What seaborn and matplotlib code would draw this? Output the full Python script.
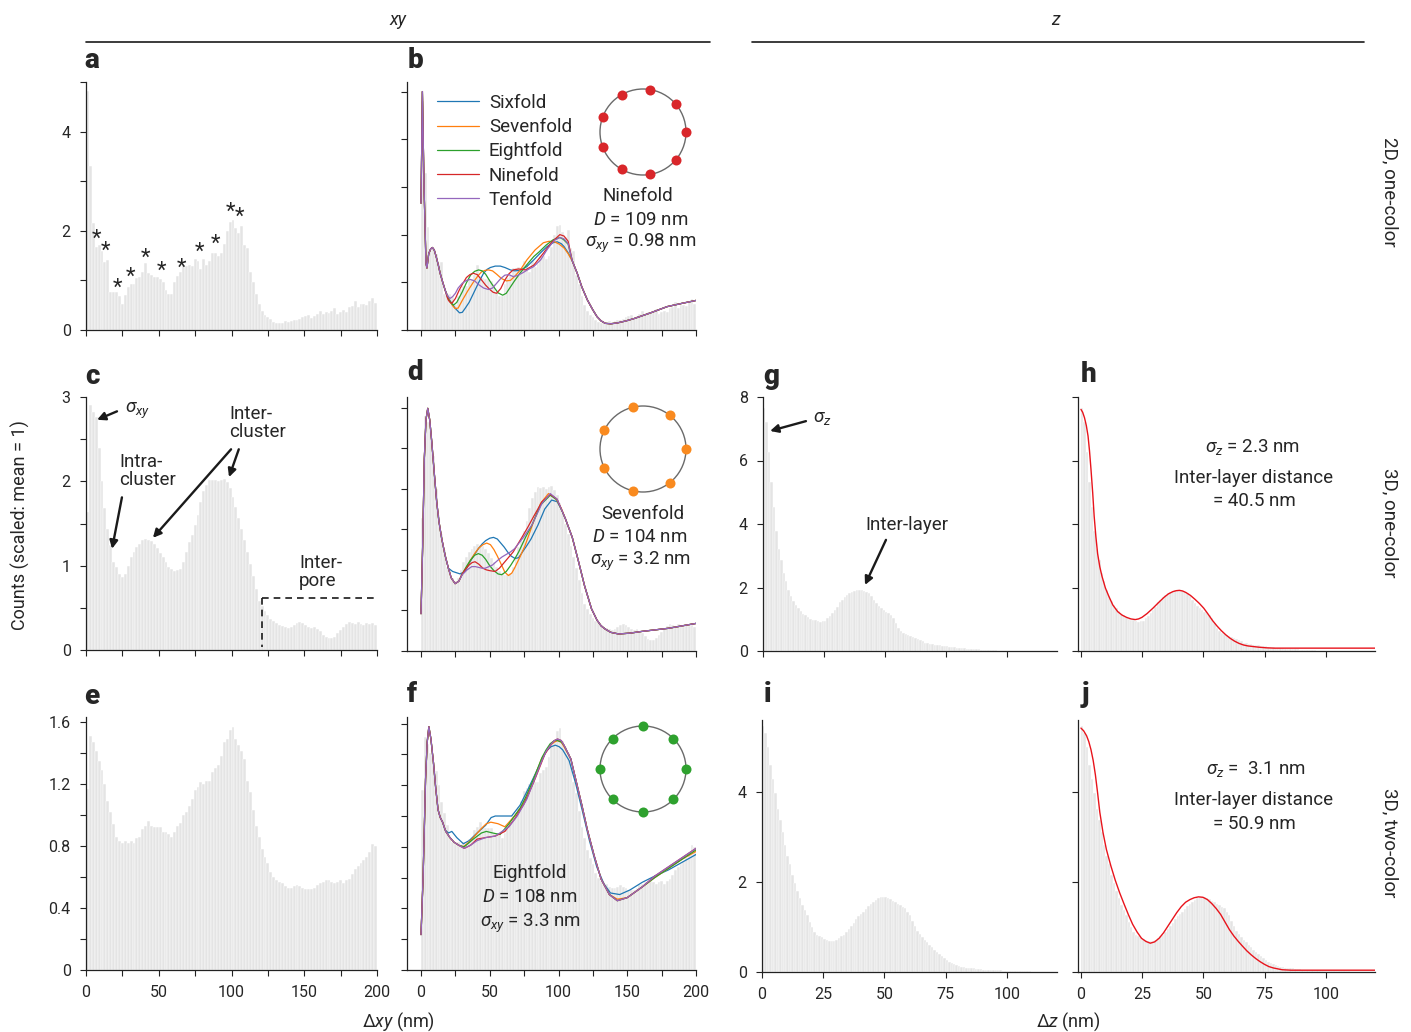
import numpy as np
import pandas as pd
import matplotlib
matplotlib.use('Agg')
import matplotlib.pyplot as plt
import seaborn as sns
from matplotlib.patches import Circle
from matplotlib.lines import Line2D

sns.set_theme(style='ticks')
plt.rcParams['font.family'] = ['Roboto', 'DejaVu Sans']
plt.rcParams['mathtext.fontset'] = 'custom'
plt.rcParams['mathtext.rm'] = 'Roboto'
plt.rcParams['mathtext.it'] = 'Roboto:italic'
plt.rcParams['mathtext.bf'] = 'Roboto:bold'

# ---- histogram data (scaled counts) ----
# xy histograms: 2 nm bins from 0 to 200 nm
hist_a = [4.81, 3.30, 2.16, 1.67, 1.71, 1.59, 1.38, 1.42, 0.76, 0.76,
          0.76, 0.69, 0.53, 0.71, 0.86, 0.92, 0.92, 1.04, 1.06, 1.16,
          1.36, 1.14, 1.10, 1.07, 1.07, 1.02, 0.96, 0.80, 0.72, 0.72,
          0.96, 1.09, 1.16, 1.31, 1.29, 1.32, 1.29, 1.44, 1.39, 1.22,
          1.44, 1.32, 1.39, 1.56, 1.56, 1.49, 1.56, 1.74, 1.99, 2.18,
          2.21, 2.06, 1.96, 2.09, 1.71, 1.66, 1.16, 0.96, 0.72, 0.52,
          0.39, 0.31, 0.27, 0.22, 0.17, 0.15, 0.15, 0.14, 0.19, 0.17,
          0.19, 0.21, 0.21, 0.23, 0.27, 0.29, 0.31, 0.25, 0.29, 0.33,
          0.39, 0.33, 0.37, 0.35, 0.39, 0.45, 0.33, 0.37, 0.40, 0.37,
          0.47, 0.49, 0.59, 0.47, 0.53, 0.52, 0.51, 0.59, 0.64, 0.55]

hist_c = [1.64, 2.90, 2.82, 2.76, 2.40, 2.00, 1.68, 1.44, 1.24, 1.04,
          0.98, 0.90, 0.86, 0.90, 1.00, 1.10, 1.16, 1.22, 1.26, 1.30,
          1.32, 1.31, 1.29, 1.26, 1.21, 1.15, 1.10, 1.04, 0.99, 0.96,
          0.94, 0.95, 0.96, 1.04, 1.16, 1.28, 1.36, 1.48, 1.60, 1.76,
          1.88, 1.96, 2.02, 2.01, 2.02, 2.00, 2.02, 2.03, 1.99, 1.92,
          1.82, 1.70, 1.56, 1.44, 1.30, 1.16, 1.02, 0.88, 0.72, 0.58,
          0.52, 0.46, 0.41, 0.37, 0.34, 0.32, 0.30, 0.28, 0.27, 0.26,
          0.27, 0.30, 0.32, 0.33, 0.32, 0.30, 0.27, 0.26, 0.27, 0.25,
          0.22, 0.18, 0.15, 0.14, 0.14, 0.16, 0.20, 0.24, 0.27, 0.31,
          0.33, 0.32, 0.31, 0.33, 0.31, 0.30, 0.32, 0.31, 0.32, 0.30]

hist_e = [1.17, 1.51, 1.47, 1.41, 1.35, 1.29, 1.20, 1.09, 1.02, 0.94,
          0.86, 0.83, 0.82, 0.83, 0.82, 0.83, 0.82, 0.85, 0.86, 0.91,
          0.93, 0.96, 0.93, 0.92, 0.92, 0.92, 0.89, 0.89, 0.88, 0.86,
          0.89, 0.93, 0.95, 1.00, 1.02, 1.06, 1.10, 1.16, 1.18, 1.21,
          1.20, 1.22, 1.22, 1.28, 1.30, 1.32, 1.38, 1.47, 1.49, 1.55,
          1.57, 1.49, 1.45, 1.41, 1.36, 1.22, 1.15, 1.03, 0.93, 0.86,
          0.78, 0.73, 0.69, 0.63, 0.60, 0.58, 0.57, 0.56, 0.54, 0.53,
          0.53, 0.54, 0.55, 0.54, 0.53, 0.52, 0.52, 0.52, 0.53, 0.55,
          0.56, 0.57, 0.58, 0.58, 0.57, 0.56, 0.57, 0.58, 0.56, 0.58,
          0.59, 0.62, 0.65, 0.67, 0.69, 0.71, 0.73, 0.76, 0.81, 0.80]

# z histograms: 1 nm bins from 0 to 120 nm
hist_g = [7.65, 7.21, 6.26, 5.31, 4.52, 3.78, 3.20, 2.88, 2.46, 2.20,
          1.93, 1.72, 1.56, 1.44, 1.35, 1.25, 1.17, 1.12, 1.07, 1.01,
          0.99, 0.97, 0.94, 0.91, 0.93, 0.96, 1.03, 1.11, 1.19, 1.30,
          1.40, 1.53, 1.61, 1.70, 1.77, 1.83, 1.87, 1.90, 1.92, 1.93,
          1.91, 1.88, 1.85, 1.83, 1.72, 1.61, 1.51, 1.42, 1.35, 1.28,
          1.22, 1.19, 1.14, 1.03, 0.88, 0.72, 0.64, 0.58, 0.54, 0.50,
          0.47, 0.45, 0.42, 0.38, 0.35, 0.30, 0.26, 0.24, 0.22, 0.21,
          0.20, 0.19, 0.18, 0.17, 0.16, 0.15, 0.14, 0.13, 0.12, 0.11,
          0.10, 0.09, 0.08, 0.07, 0.07, 0.06, 0.06, 0.05, 0.05, 0.04,
          0.04, 0.03, 0.03, 0.02, 0.02, 0.02, 0.01, 0.01, 0.01, 0.01,
          0, 0, 0, 0, 0, 0, 0, 0, 0, 0,
          0, 0, 0, 0, 0, 0, 0, 0, 0, 0]

hist_i = [5.46, 5.31, 5.01, 4.60, 4.28, 3.98, 3.62, 3.38, 3.12, 2.82,
          2.57, 2.39, 2.16, 1.97, 1.79, 1.64, 1.49, 1.37, 1.26, 1.11,
          1.00, 0.90, 0.83, 0.80, 0.77, 0.74, 0.71, 0.70, 0.69, 0.68,
          0.72, 0.75, 0.80, 0.83, 0.89, 0.95, 1.02, 1.10, 1.17, 1.25,
          1.30, 1.34, 1.40, 1.47, 1.52, 1.56, 1.60, 1.64, 1.66, 1.67,
          1.67, 1.65, 1.62, 1.58, 1.55, 1.52, 1.49, 1.45, 1.43, 1.34,
          1.26, 1.13, 1.02, 0.92, 0.85, 0.77, 0.72, 0.66, 0.60, 0.55,
          0.50, 0.45, 0.40, 0.36, 0.32, 0.27, 0.23, 0.20, 0.17, 0.15,
          0.14, 0.12, 0.11, 0.10, 0.09, 0.08, 0.08, 0.07, 0.07, 0.06,
          0.05, 0.05, 0.05, 0.04, 0.04, 0.04, 0.04, 0.04, 0.03, 0.03,
          0.03, 0.03, 0.03, 0.03, 0.02, 0.02, 0.02, 0.02, 0.02, 0.02,
          0, 0, 0, 0, 0, 0, 0, 0, 0, 0]

# ---- fitted model curves ----
fold_names = ['Sixfold', 'Sevenfold', 'Eightfold', 'Ninefold', 'Tenfold']
fold_colors = ['#1f77b4', '#ff7f0e', '#2ca02c', '#d62728', '#9467bd']

# panel b (2D, one-color)
b_head_x = [0, 1.0, 2.2, 3.6, 4.3, 5.6, 7.0, 8.3, 9.7, 11.0, 12.5, 13.9, 15.7, 17.5]
b_head_y = [2.66, 5.0, 3.0, 1.4, 1.3, 1.6, 1.70, 1.73, 1.67, 1.54, 1.37, 1.19, 1.01, 0.84]
b_mid_x = [[19.5, 21, 23, 25, 28, 30, 32, 35, 38.2, 42, 45.5, 48, 50.4, 54, 57.7, 61, 65, 68, 72, 77, 82, 87, 91.7, 96, 99, 102, 104, 107],
           [19.5, 21, 23, 24.8, 27, 30, 34, 38, 41, 44, 46.5, 49, 52, 55, 58.5, 62, 65, 68, 72, 77, 83, 89, 93, 97, 100.5, 104, 107],
           [19, 20, 22, 23.6, 26, 30, 33, 36, 39, 41.9, 44.5, 47, 50, 53, 56, 59.4, 62, 65, 68, 72, 77, 82, 86, 91, 96, 101, 103.5, 107],
           [19, 20, 21.2, 22.4, 25, 28, 30.5, 33, 35.5, 38, 41, 44, 47, 50, 52.5, 55, 58, 61, 64, 67, 71, 76, 82, 89, 95, 101, 104, 107],
           [18.5, 19.5, 21, 23, 25, 27, 30, 33, 35.8, 39, 42, 45.5, 49, 52, 55, 58, 61, 64, 67, 70, 74, 78, 82, 87, 92, 97, 101, 104, 107]]
b_mid_y = [[0.71, 0.62, 0.53, 0.45, 0.36, 0.37, 0.45, 0.58, 0.77, 1.00, 1.19, 1.27, 1.31, 1.34, 1.34, 1.31, 1.26, 1.24, 1.25, 1.33, 1.47, 1.62, 1.75, 1.83, 1.85, 1.81, 1.75, 1.62],
           [0.70, 0.60, 0.51, 0.45, 0.46, 0.62, 0.82, 1.00, 1.12, 1.22, 1.25, 1.26, 1.24, 1.17, 1.08, 1.03, 1.04, 1.12, 1.25, 1.47, 1.68, 1.83, 1.86, 1.85, 1.80, 1.72, 1.60],
           [0.71, 0.64, 0.56, 0.52, 0.58, 0.80, 0.99, 1.15, 1.23, 1.26, 1.24, 1.17, 1.03, 0.90, 0.78, 0.73, 0.77, 0.90, 1.03, 1.19, 1.37, 1.54, 1.64, 1.78, 1.89, 1.94, 1.90, 1.80],
           [0.69, 0.62, 0.58, 0.56, 0.66, 0.85, 0.98, 1.10, 1.16, 1.19, 1.16, 1.05, 0.94, 0.85, 0.79, 0.77, 0.87, 1.05, 1.18, 1.26, 1.28, 1.26, 1.36, 1.61, 1.84, 2.00, 1.97, 1.86],
           [0.76, 0.71, 0.66, 0.70, 0.77, 0.88, 0.98, 1.04, 1.06, 1.03, 0.95, 0.88, 0.85, 0.88, 0.98, 1.08, 1.15, 1.16, 1.12, 1.14, 1.20, 1.27, 1.33, 1.47, 1.70, 1.88, 1.94, 1.91, 1.81]]
b_tail_x = [110, 113.6, 117, 121, 125, 128, 131, 134, 138, 143, 149, 155, 167, 179, 190, 200]
b_tail_y = [1.45, 1.19, 0.90, 0.63, 0.42, 0.28, 0.19, 0.14, 0.13, 0.15, 0.19, 0.24, 0.36, 0.49, 0.56, 0.62]

# panel d (3D, one-color)
d_head_x = [0, 1.2, 2.4, 3.6, 4.9, 6.3, 7.8, 9.6, 11.4, 13, 15, 17.5, 19.9]
d_head_y = [0.46, 1.30, 2.37, 2.85, 2.99, 2.85, 2.58, 2.20, 1.84, 1.60, 1.39, 1.18, 1.02]
d_mid_x = [[23, 28.4, 32, 35, 38.5, 41.7, 44.5, 47, 50, 52.7, 55.5, 58, 60.5, 63, 65.5, 68.4, 71, 73, 77, 80, 85, 90, 95, 99, 102, 105],
           [22, 24.8, 27.5, 30, 33, 36, 39, 42, 45, 47.8, 50.5, 53, 55.5, 58, 61, 63.6, 66, 68, 72, 75.7, 82, 87, 92.7, 98, 102, 105],
           [22, 24.8, 27.5, 30, 33, 36, 39, 41.7, 44.5, 47, 50, 53, 56, 58.7, 62, 65, 68, 71, 76, 80.6, 87, 94, 99, 105],
           [22, 24.8, 27.5, 30, 32.5, 35, 37.2, 39.3, 42, 45, 47.5, 50, 53.9, 57, 60, 63.5, 67, 73, 77.5, 82, 88, 94, 99, 105],
           [22, 24.8, 27.5, 30, 33.5, 36.9, 39.5, 42, 44.5, 46.6, 49.5, 52, 56, 59, 62, 65, 68, 74, 80.6, 88, 94, 99, 105]]
d_mid_y = [[0.98, 0.95, 0.98, 1.08, 1.18, 1.26, 1.32, 1.36, 1.39, 1.40, 1.38, 1.33, 1.28, 1.22, 1.17, 1.14, 1.15, 1.20, 1.30, 1.38, 1.55, 1.75, 1.86, 1.84, 1.75, 1.63],
           [0.90, 0.83, 0.86, 0.95, 1.03, 1.12, 1.20, 1.27, 1.31, 1.33, 1.31, 1.25, 1.17, 1.08, 0.97, 0.93, 0.96, 1.02, 1.16, 1.30, 1.60, 1.82, 1.94, 1.88, 1.76, 1.63],
           [0.90, 0.83, 0.86, 0.95, 1.04, 1.12, 1.18, 1.20, 1.18, 1.13, 1.05, 0.99, 0.95, 0.94, 0.98, 1.05, 1.13, 1.22, 1.40, 1.55, 1.80, 1.92, 1.86, 1.63],
           [0.90, 0.83, 0.86, 0.95, 1.01, 1.06, 1.09, 1.10, 1.07, 1.02, 1.00, 0.99, 0.98, 1.02, 1.08, 1.15, 1.22, 1.39, 1.52, 1.66, 1.84, 1.93, 1.87, 1.63],
           [0.90, 0.83, 0.86, 0.94, 1.00, 1.04, 1.04, 1.03, 1.02, 1.02, 1.04, 1.06, 1.12, 1.16, 1.19, 1.22, 1.26, 1.39, 1.55, 1.82, 1.94, 1.87, 1.63]]
d_tail_x = [110, 114.6, 119, 124, 128, 131, 134, 138, 143.7, 152, 160, 170, 180, 190, 200]
d_tail_y = [1.40, 1.10, 0.80, 0.52, 0.38, 0.31, 0.27, 0.23, 0.21, 0.22, 0.24, 0.26, 0.28, 0.31, 0.34]

# panel f (3D, two-color)
f_head_x = [0, 1.5, 3.3, 4.5, 5.7, 7.2, 9.0, 10.7, 12.4, 14, 15.7]
f_head_y = [0.23, 0.60, 1.24, 1.48, 1.58, 1.50, 1.35, 1.18, 1.04, 0.99, 0.96]
f_mid_x = [[17.4, 20, 22.4, 26, 30.8, 35, 40.8, 47, 51, 54, 60, 65.9, 72, 77.6, 84, 91, 94.5, 97.7, 100.5, 103, 107.7,
            112.5, 117.7, 122.5, 127.8, 133, 137.8, 144.5, 152, 161, 170, 180, 190, 200],
           [18, 21, 24, 27.5, 30.8, 36, 40, 44, 47.5, 50.8, 56, 61, 68, 73, 77.6, 82.5, 87.6, 91, 94, 97, 99.3, 102, 104, 109,
            113, 117, 121, 126, 131, 137, 142.8, 150, 161, 170, 180, 190, 200],
           [18, 21, 24, 27.5, 31.4, 38, 44, 47.5, 52, 57.5, 64, 72, 76, 80, 84, 88, 91, 94, 97, 99.3, 102, 104, 109,
            113, 117, 121, 126, 131, 137, 142.8, 150, 161, 170, 180, 190, 200],
           [18, 21, 24, 27.5, 31.4, 36, 40.8, 47, 54, 61, 68, 75, 82, 86, 90, 95, 97, 99.3, 102, 104, 109,
            113, 117, 121, 126, 131, 137, 142.8, 150, 161, 170, 180, 190, 200],
           [18, 21, 24, 27.5, 31.4, 36, 40.8, 47, 54, 64, 70, 77, 84, 87.5, 91, 95, 97, 99.3, 102, 104, 109,
            113, 117, 121, 126, 131, 137, 142.8, 150, 161, 170, 180, 190, 200]]
f_mid_y = [[0.91, 0.89, 0.90, 0.86, 0.82, 0.84, 0.89, 0.94, 0.99, 1.00, 1.00, 1.00, 1.07, 1.17, 1.29, 1.42, 1.45, 1.46, 1.45, 1.43, 1.36,
            1.21, 1.02, 0.84, 0.67, 0.56, 0.50, 0.49, 0.52, 0.57, 0.61, 0.65, 0.70, 0.75],
           [0.90, 0.86, 0.83, 0.81, 0.80, 0.84, 0.88, 0.92, 0.95, 0.96, 0.95, 0.93, 1.00, 1.06, 1.13, 1.25, 1.37, 1.42, 1.46, 1.48, 1.49, 1.48, 1.45, 1.37,
            1.22, 1.07, 0.91, 0.74, 0.59, 0.49, 0.46, 0.47, 0.54, 0.60, 0.66, 0.72, 0.77],
           [0.90, 0.86, 0.83, 0.81, 0.80, 0.85, 0.89, 0.90, 0.89, 0.88, 0.95, 1.05, 1.12, 1.20, 1.29, 1.38, 1.43, 1.47, 1.49, 1.49, 1.48, 1.46, 1.37,
            1.22, 1.07, 0.91, 0.74, 0.59, 0.49, 0.45, 0.47, 0.54, 0.60, 0.66, 0.72, 0.78],
           [0.90, 0.86, 0.83, 0.81, 0.79, 0.81, 0.85, 0.86, 0.87, 0.90, 0.98, 1.08, 1.22, 1.31, 1.40, 1.47, 1.49, 1.50, 1.49, 1.46, 1.37,
            1.22, 1.07, 0.91, 0.74, 0.59, 0.49, 0.45, 0.47, 0.54, 0.61, 0.67, 0.73, 0.79],
           [0.90, 0.86, 0.83, 0.81, 0.79, 0.81, 0.84, 0.86, 0.87, 0.93, 1.00, 1.11, 1.27, 1.35, 1.42, 1.47, 1.49, 1.50, 1.49, 1.46, 1.37,
            1.22, 1.07, 0.91, 0.74, 0.59, 0.49, 0.45, 0.47, 0.54, 0.61, 0.67, 0.73, 0.79]]

# panels h, j: fitted z curves
h_x = [0, 0.7, 1.44, 2.2, 2.9, 3.5, 4.1, 4.8, 5.4, 6.1, 6.8, 7.7, 8.6, 10, 11.4, 13, 15, 16.8, 18.6, 20.4,
       22.2, 23.5, 24.9, 27, 29.4, 31.6, 33.9, 35.7, 37.5, 38.9, 40.2, 41.5,
       42.9, 44.7, 46.5, 48.3, 50.1, 51.9, 53.7, 55.5, 57.3, 59.1, 60.9, 62.7, 64.5, 66.3, 68.1, 70.3,
       72.6, 75.7, 78.9, 86, 100, 120]
h_y = [7.61, 7.52, 7.35, 7.10, 6.77, 6.30, 5.72, 4.98, 4.24, 3.60, 3.07, 2.65, 2.35, 1.98, 1.72, 1.45, 1.24, 1.13, 1.06, 1.01,
       0.99, 1.01, 1.06, 1.18, 1.35, 1.52, 1.69, 1.80, 1.87, 1.90, 1.91, 1.89,
       1.84, 1.75, 1.63, 1.50, 1.35, 1.16, 0.96, 0.79, 0.64, 0.51, 0.40, 0.31, 0.24, 0.19, 0.16, 0.14,
       0.12, 0.10, 0.09, 0.09, 0.09, 0.09]
j_x = [0, 1.1, 2.3, 3.2, 4.1, 5.0, 5.9, 6.8, 7.7, 9.0, 10.4, 12.2, 14, 15.8, 17.6, 19.4, 21.1, 22.9, 24.7, 26.5,
       28.3, 30.1, 31.9, 33.7, 35.5, 37.3, 39.1, 40.9, 42.7, 44.5, 46.2, 48, 49.8, 51.6,
       53.4, 55.2, 57, 58.8, 60.6, 62.4, 64.2, 66, 67.7, 69.5, 71.3, 73.1, 74.9, 76.7, 78.5, 82.1, 85.7, 100, 120]
j_y = [5.42, 5.36, 5.25, 5.12, 4.94, 4.70, 4.38, 3.98, 3.55, 3.10, 2.72, 2.36, 2.04, 1.76, 1.51, 1.27, 1.06, 0.89, 0.75, 0.68,
       0.64, 0.67, 0.75, 0.87, 1.02, 1.17, 1.32, 1.45, 1.55, 1.61, 1.65, 1.67, 1.66, 1.61,
       1.52, 1.41, 1.28, 1.11, 0.94, 0.80, 0.68, 0.57, 0.47, 0.38, 0.30, 0.23, 0.17, 0.12, 0.09, 0.05, 0.04, 0.04, 0.04]

# asterisks in panel a (x nm, y)
star_x = [6.9, 13.7, 21.3, 30.9, 41.2, 52.2, 65.3, 77.7, 89.3, 99.6, 105.8]
star_y = [1.82, 1.58, 0.85, 1.07, 1.44, 1.19, 1.25, 1.56, 1.72, 2.38, 2.28]

# ---------------------------------------------------------------
W, H = 1411, 1032
fig = plt.figure(figsize=(W / 100, H / 100), dpi=100)
BAR = '#e4e4e4'
FS = 13.5


def rect(l, t, r, b):
    return [l / W, 1 - b / H, (r - l) / W, (b - t) / H]


def ftxt(x, y, s, **kw):
    kw.setdefault('fontsize', FS)
    kw.setdefault('ha', 'center')
    kw.setdefault('va', 'center')
    fig.text(x / W, 1 - y / H, s, **kw)


xy_centers = np.arange(1, 200, 2)
z_centers = np.arange(0.5, 120, 1)


def hist(ax, centers, nbins, rng, vals):
    df = pd.DataFrame({'pos': centers, 'val': vals})
    sns.histplot(data=df, x='pos', weights='val', bins=nbins, binrange=rng, ax=ax,
                 color=BAR, edgecolor='white', linewidth=0.35, alpha=1)


def style(ax, xlim, ylim, xt, xl, yt, yl):
    ax.set_xlim(xlim)
    ax.set_ylim(ylim)
    ax.set_xticks(xt)
    ax.set_xticklabels(xl)
    ax.set_yticks(yt)
    ax.set_yticklabels(yl)
    ax.set_xlabel('')
    ax.set_ylabel('')
    for s in ['top', 'right']:
        ax.spines[s].set_visible(False)
    for s in ['left', 'bottom']:
        ax.spines[s].set_linewidth(0.9)
        ax.spines[s].set_color('#222222')
    ax.tick_params(direction='out', length=4, width=0.8, color='#222222',
                   labelsize=11.5, pad=7)
    ax.set_facecolor('none')


def curves(ax, hx, hy, mx, my, tx, ty, with_label=False):
    for k in range(5):
        xs = hx + mx[k] + tx
        ys = hy + my[k] + ty
        sns.lineplot(x=xs, y=ys, ax=ax, color=fold_colors[k], lw=0.9,
                     sort=False, estimator=None,
                     label=fold_names[k] if with_label else None)


def ring(cx, cy, n, color):
    iax = fig.add_axes(rect(cx - 52, cy - 52, cx + 52, cy + 52))
    iax.set_xlim(-52, 52)
    iax.set_ylim(-52, 52)
    iax.set_aspect('equal')
    iax.axis('off')
    iax.add_patch(Circle((0, 0), 43, fill=False, ec='#6a6a6a', lw=1.0))
    ang = np.deg2rad(np.arange(n) * 360.0 / n)
    iax.scatter(43 * np.cos(ang), 43 * np.sin(ang), s=52, color=color,
                linewidths=0, zorder=3)


xt_xy = list(range(0, 201, 25))
no_xy = [''] * len(xt_xy)
lab_xy = ['0', '', '50', '', '100', '', '150', '', '200']
xt_z = [0, 25, 50, 75, 100]
arw = dict(arrowstyle='-|>', color='k', lw=1.7, mutation_scale=12, shrinkA=0, shrinkB=0)

# ---- row 1 ----
ax_a = fig.add_axes(rect(86, 82, 377, 330))
hist(ax_a, xy_centers, 100, (0, 200), hist_a)
for sx, sy in zip(star_x, star_y):
    ax_a.text(sx, sy, '*', ha='center', va='center', fontsize=16)
style(ax_a, (0, 200), (0, 5.0), xt_xy, no_xy, [0, 1, 2, 3, 4, 5], ['0', '', '2', '', '4', ''])

ax_b = fig.add_axes(rect(407, 82, 696, 330))
hist(ax_b, xy_centers, 100, (0, 200), hist_a)
curves(ax_b, b_head_x, b_head_y, b_mid_x, b_mid_y, b_tail_x, b_tail_y, with_label=True)
style(ax_b, (-10.2, 200), (0, 5.2), xt_xy, no_xy, [0, 1, 2, 3, 4, 5], [''] * 6)
ax_b.legend(loc='upper left', bbox_to_anchor=(0.104, 0.952), frameon=False,
            fontsize=FS, handlelength=2.24, handletextpad=0.53, labelspacing=0.33,
            borderpad=0, borderaxespad=0)

# ---- row 2 ----
ax_c = fig.add_axes(rect(86, 397, 377, 650))
hist(ax_c, xy_centers, 100, (0, 200), hist_c)
style(ax_c, (0, 200), (0, 3.0), xt_xy, no_xy, [0, 0.5, 1, 1.5, 2, 2.5, 3],
      ['0', '', '1', '', '2', '', '3'])
ax_c.annotate('', xy=(7.6, 2.73), xytext=(21.3, 2.83), arrowprops=arw)
ax_c.text(27, 2.84, r'$\sigma_{xy}$', ha='left', va='center', fontsize=FS)
ax_c.text(22.7, 2.12, 'Intra-\ncluster', ha='left', va='center', fontsize=FS, linespacing=1.0)
ax_c.annotate('', xy=(17.9, 1.20), xytext=(24.7, 1.81), arrowprops=arw)
ax_c.text(98.3, 2.69, 'Inter-\ncluster', ha='left', va='center', fontsize=FS, linespacing=1.0)
ax_c.annotate('', xy=(46.0, 1.33), xytext=(99.7, 2.38), arrowprops=arw)
ax_c.annotate('', xy=(98.3, 2.05), xytext=(105, 2.38), arrowprops=arw)
ax_c.text(146.4, 0.92, 'Inter-\npore', ha='left', va='center', fontsize=FS, linespacing=1.0)
ax_c.plot([121, 200], [0.615, 0.615], ls=(0, (4, 3)), color='k', lw=1.2)
ax_c.plot([121, 121], [0.615, 0.04], ls=(0, (4, 3)), color='k', lw=1.2)

ax_d = fig.add_axes(rect(407, 397, 696, 651))
hist(ax_d, xy_centers, 100, (0, 200), hist_c)
curves(ax_d, d_head_x, d_head_y, d_mid_x, d_mid_y, d_tail_x, d_tail_y)
style(ax_d, (-10.2, 200), (0, 3.13), xt_xy, no_xy, [0, 0.5, 1, 1.5, 2, 2.5, 3], [''] * 7)

ax_g = fig.add_axes(rect(763, 397, 1057, 651))
hist(ax_g, z_centers, 120, (0, 120), hist_g)
style(ax_g, (0, 120.5), (0, 8), xt_z, [''] * 5, [0, 2, 4, 6, 8], ['0', '2', '4', '6', '8'])
ax_g.annotate('', xy=(2.9, 6.93), xytext=(17.6, 7.24), arrowprops=arw)
ax_g.text(20.3, 7.34, r'$\sigma_z$', ha='left', va='center', fontsize=FS)
ax_g.text(59, 3.97, 'Inter-layer', ha='center', va='center', fontsize=FS)
ax_g.annotate('', xy=(41.8, 2.08), xytext=(50.4, 3.5), arrowprops=arw)

ax_h = fig.add_axes(rect(1078, 397, 1375, 651))
hist(ax_h, z_centers, 120, (0, 120), hist_g)
sns.lineplot(x=h_x, y=h_y, ax=ax_h, color='#e8141c', lw=1.0, sort=False, estimator=None)
style(ax_h, (-1.2, 120), (0, 8), xt_z, [''] * 5, [0, 2, 4, 6, 8], [''] * 5)

# ---- row 3 ----
ax_e = fig.add_axes(rect(86, 717, 377, 970))
hist(ax_e, xy_centers, 100, (0, 200), hist_e)
style(ax_e, (0, 200), (0, 1.632), xt_xy, lab_xy, [0, 0.2, 0.4, 0.6, 0.8, 1.0, 1.2, 1.4, 1.6],
      ['0', '', '0.4', '', '0.8', '', '1.2', '', '1.6'])

ax_f = fig.add_axes(rect(407, 717, 696, 970))
hist(ax_f, xy_centers, 100, (0, 200), hist_e)
for k in range(5):
    sns.lineplot(x=f_head_x + f_mid_x[k], y=f_head_y + f_mid_y[k], ax=ax_f,
                 color=fold_colors[k], lw=0.9, sort=False, estimator=None)
style(ax_f, (-10.2, 200), (0, 1.643), xt_xy, lab_xy,
      [0, 0.2, 0.4, 0.6, 0.8, 1.0, 1.2, 1.4, 1.6], [''] * 9)

ax_i = fig.add_axes(rect(762, 720, 1057, 972))
hist(ax_i, z_centers, 120, (0, 120), hist_i)
style(ax_i, (0, 120.5), (0, 5.6), xt_z, ['0', '25', '50', '75', '100'], [0, 2, 4], ['0', '2', '4'])

ax_j = fig.add_axes(rect(1078, 720, 1375, 972))
hist(ax_j, z_centers, 120, (0, 120), hist_i)
sns.lineplot(x=j_x, y=j_y, ax=ax_j, color='#e8141c', lw=1.0, sort=False, estimator=None)
style(ax_j, (-1.2, 120), (0, 5.6), xt_z, ['0', '25', '50', '75', '100'], [0, 2, 4], [''] * 3)

# ---- rings and panel texts ----
ring(643, 132, 9, '#d9262a')
ring(643, 449, 7, '#f98a1f')
ring(643, 769, 8, '#2ea12e')

ftxt(638, 196, 'Ninefold')
ftxt(641, 220, r'$D$ = 109 nm')
ftxt(641, 243, r'$\sigma_{xy}$ = 0.98 nm')
ftxt(643, 514, 'Sevenfold')
ftxt(640, 537, r'$D$ = 104 nm')
ftxt(640, 561, r'$\sigma_{xy}$ = 3.2 nm')
ftxt(530, 873, 'Eightfold')
ftxt(530, 897, r'$D$ = 108 nm')
ftxt(530, 923, r'$\sigma_{xy}$ = 3.3 nm')
ftxt(1252, 447, r'$\sigma_z$ = 2.3 nm')
ftxt(1254, 478, 'Inter-layer distance')
ftxt(1254, 501, '= 40.5 nm')
ftxt(1256, 769, r'$\sigma_z$ =  3.1 nm')
ftxt(1254, 800, 'Inter-layer distance')
ftxt(1254, 824, '= 50.9 nm')

# panel letters
for lx, ly, s in [(92, 60, 'a'), (415, 60, 'b'), (92, 377, 'c'), (415, 373, 'd'),
                  (771, 376, 'g'), (1089, 374, 'h'), (92, 697, 'e'), (412, 694, 'f'),
                  (768, 694, 'i'), (1085, 694, 'j')]:
    ftxt(lx, ly, s, fontsize=20, fontweight='black')

# headers, row labels, axis labels
ftxt(398, 20, 'xy', style='italic', fontsize=13)
ftxt(1055, 20, 'z', style='italic', fontsize=13)
fig.add_artist(Line2D([86 / W, 710 / W], [1 - 42 / H] * 2, color='k', lw=1.2))
fig.add_artist(Line2D([752 / W, 1364 / W], [1 - 42 / H] * 2, color='k', lw=1.2))
ftxt(1390, 192, '2D, one-color', rotation=270)
ftxt(1390, 523, '3D, one-color', rotation=270)
ftxt(1390, 843, '3D, two-color', rotation=270)
ftxt(20, 525, 'Counts (scaled: mean = 1)', rotation=90, fontsize=13)
ftxt(398, 1022, r'Δ$xy$ (nm)', fontsize=13)
ftxt(1068, 1022, r'Δ$z$ (nm)', fontsize=13)

fig.savefig('out.png', dpi=100)
